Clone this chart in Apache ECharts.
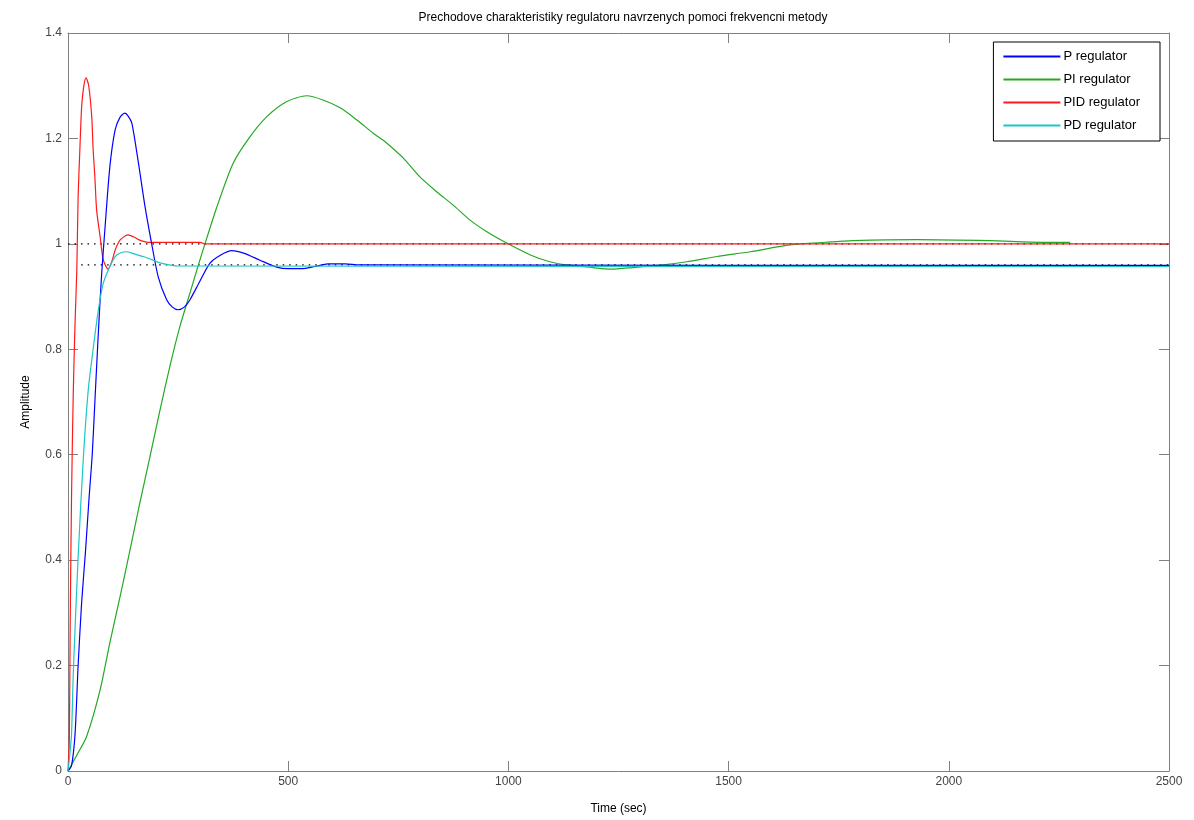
<!DOCTYPE html>
<html>
<head>
<meta charset="utf-8">
<title>Prechodove charakteristiky</title>
<script src="https://cdn.jsdelivr.net/npm/echarts@6/dist/echarts.min.js"></script>
<style>
  html, body { margin: 0; padding: 0; background: #fff; }
  #chart { width: 1194px; height: 820px; }
</style>
</head>
<body>
<div id="chart"></div>
<script>
// step responses: [time (sec), amplitude]
const pResponse = [
  [0, 0], [8, 0.01], [16, 0.07], [23, 0.2], [31, 0.32], [40, 0.42], [48, 0.52], [55, 0.6],
  [61, 0.7], [67, 0.8], [72, 0.88], [77, 0.95], [84, 1.03], [95, 1.146], [107, 1.216],
  [118, 1.24], [129, 1.248], [137, 1.242], [145, 1.229], [160, 1.153], [175, 1.07],
  [190, 1.0], [205, 0.937], [224, 0.894], [237, 0.88], [250, 0.875], [264, 0.88],
  [277, 0.894], [300, 0.93], [322, 0.963], [345, 0.978], [372, 0.987], [400, 0.982],
  [436, 0.969], [474, 0.956], [500, 0.953], [530, 0.953], [560, 0.957], [590, 0.962],
  [630, 0.962], [660, 0.96], [2500, 0.959]
];
const piResponse = [
  [0, 0], [20, 0.03], [42, 0.065], [73, 0.154], [95, 0.243], [118, 0.33], [141, 0.42],
  [163, 0.508], [186, 0.596], [209, 0.685], [232, 0.77], [254, 0.843], [277, 0.907],
  [295, 0.957], [311, 1.0], [338, 1.07], [375, 1.153], [413, 1.203], [451, 1.241],
  [497, 1.27], [542, 1.281], [579, 1.273], [618, 1.258], [656, 1.235], [693, 1.21],
  [724, 1.191], [761, 1.163], [799, 1.127], [837, 1.099], [874, 1.074], [913, 1.045],
  [951, 1.023], [995, 1.002], [1050, 0.979], [1094, 0.966], [1132, 0.96], [1192, 0.955],
  [1231, 0.952], [1283, 0.955], [1351, 0.96], [1405, 0.966], [1473, 0.976], [1549, 0.985],
  [1639, 0.998], [1721, 1.003], [1783, 1.006], [1928, 1.008], [2094, 1.006], [2214, 1.003],
  [2275, 1.003]
];
const pidResponse = [
  [0, 0], [3, 0.06], [5, 0.28], [8, 0.52], [12, 0.72], [16, 0.85], [20, 0.95], [23, 1.09],
  [27, 1.18], [31, 1.26], [36, 1.3], [41, 1.315], [47, 1.3], [54, 1.24], [57, 1.18],
  [61, 1.127], [65, 1.064], [73, 1.013], [80, 0.97], [91, 0.952], [99, 0.965], [107, 0.988],
  [118, 1.007], [136, 1.017], [150, 1.013], [163, 1.007], [182, 1.003], [300, 1.003],
  [310, 1.0], [2500, 1.0]
];
const pdResponse = [
  [0, 0], [4, 0.03], [8, 0.07], [12, 0.186], [23, 0.406], [35, 0.596], [46, 0.723],
  [57, 0.8], [69, 0.875], [80, 0.925], [95, 0.957], [107, 0.976], [120, 0.983],
  [133, 0.985], [150, 0.981], [171, 0.976], [190, 0.97], [209, 0.964], [230, 0.96],
  [247, 0.958], [2500, 0.957]
];
// steady-state levels (dotted)
const steadyPid = [[0, 1], [2500, 1]];
const steadyP = [[30, 0.96], [2500, 0.96]];

const seriesNames = ['P regulator', 'PI regulator', 'PID regulator', 'PD regulator'];
const seriesColors = ['#0000ff', '#22aa22', '#ff1a1a', '#1ac6c6'];
const responses = [pResponse, piResponse, pidResponse, pdResponse];

const chart = echarts.init(document.getElementById('chart'));

const axisGray = '#808080';
const labelColor = '#444';
const font = '"Liberation Sans", Arial, sans-serif';

const baseX = {
  type: 'value', min: 0, max: 2500, interval: 500,
  axisLine: { show: true, onZero: false, lineStyle: { color: axisGray, width: 1 } },
  axisTick: { show: true, inside: true, length: 10, lineStyle: { color: axisGray } },
  splitLine: { show: false }
};
const baseY = {
  type: 'value', min: 0, max: 1.4, interval: 0.2,
  axisLine: { show: true, onZero: false, lineStyle: { color: axisGray, width: 1 } },
  axisTick: { show: true, inside: true, length: 10, lineStyle: { color: axisGray } },
  splitLine: { show: false }
};

chart.setOption({
  animation: false,
  backgroundColor: '#fff',
  textStyle: { fontFamily: font },
  title: {
    text: 'Prechodove charakteristiky regulatoru navrzenych pomoci frekvencni metody',
    left: 618, top: 7, textAlign: 'center',
    textStyle: { fontSize: 12, fontWeight: 'normal', color: '#000', fontFamily: font }
  },
  grid: { left: 68, right: 25, top: 33, bottom: 49, outerBoundsMode: 'none', containLabel: false },
  legend: {
    data: seriesNames,
    orient: 'vertical',
    right: 34, top: 42,
    padding: [8, 20, 9, 10],
    itemGap: 10,
    itemWidth: 57, itemHeight: 2,
    icon: 'rect',
    borderColor: '#000', borderWidth: 1, backgroundColor: '#fff',
    textStyle: { fontSize: 13, color: '#000', fontFamily: font, padding: [0, 0, 0, -2] }
  },
  xAxis: [
    Object.assign({}, baseX, {
      position: 'bottom',
      name: 'Time (sec)', nameLocation: 'middle', nameGap: 32,
      nameTextStyle: { fontSize: 12, color: '#000', fontFamily: font },
      axisLabel: { color: labelColor, fontSize: 12, margin: 5, fontFamily: font,
        formatter: v => String(v) }
    }),
    Object.assign({}, baseX, { position: 'top', axisLabel: { show: false } })
  ],
  yAxis: [
    Object.assign({}, baseY, {
      position: 'left',
      name: 'Amplitude', nameLocation: 'middle', nameGap: 36, nameRotate: 90,
      nameTextStyle: { fontSize: 12, color: '#000', fontFamily: font },
      axisLabel: { color: labelColor, fontSize: 12, margin: 6, fontFamily: font }
    }),
    Object.assign({}, baseY, { position: 'right', axisLabel: { show: false } })
  ],
  series: [
    {
      name: 'steady1', type: 'line', data: steadyPid, showSymbol: false, silent: true, z: 1,
      lineStyle: { color: '#000', width: 1.3, type: [1.5, 5] }
    },
    {
      name: 'steady2', type: 'line', data: steadyP, showSymbol: false, silent: true, z: 1,
      lineStyle: { color: '#000', width: 1.3, type: [1.5, 5] }
    }
  ].concat(responses.map((data, i) => ({
    name: seriesNames[i],
    type: 'line',
    data: data,
    showSymbol: false,
    smooth: 0.25,
    z: i === 0 ? 6 : 3 + i,
    itemStyle: { color: seriesColors[i] },
    lineStyle: { color: seriesColors[i], width: 1.2 }
  })))
});
</script>
</body>
</html>
